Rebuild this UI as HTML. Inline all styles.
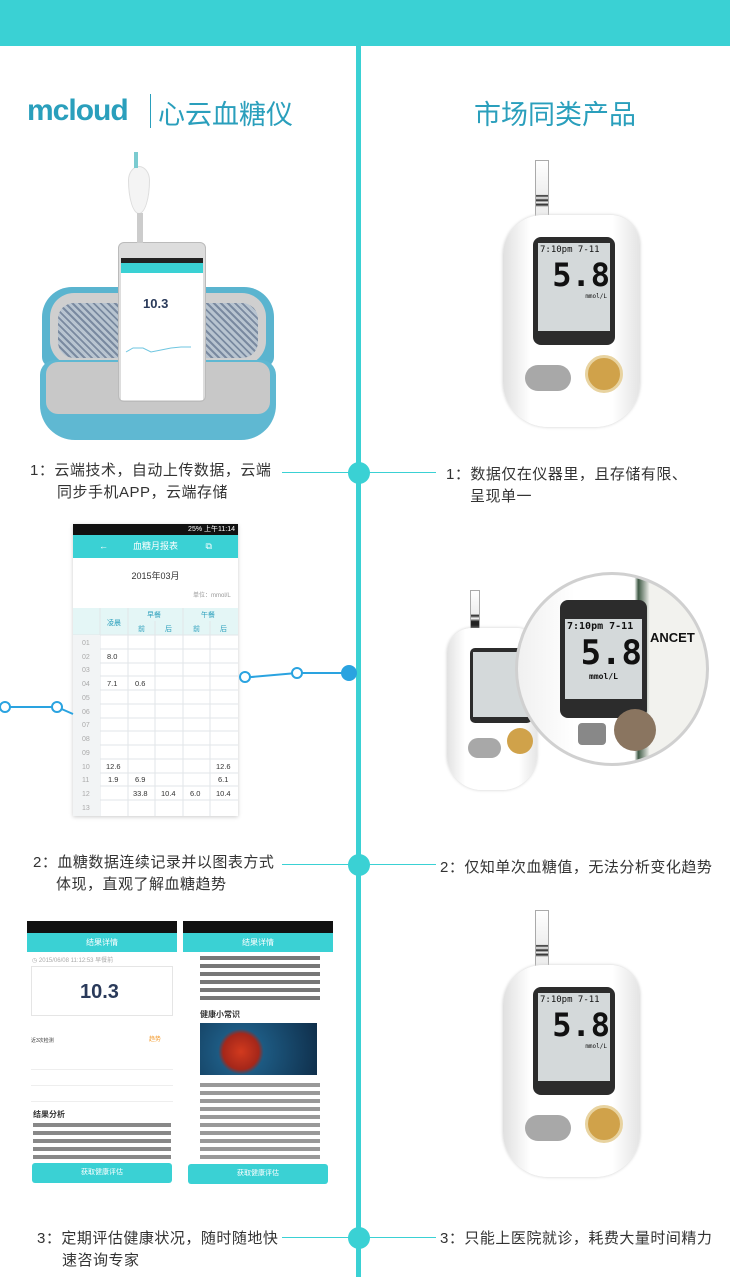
<!DOCTYPE html>
<html><head><meta charset="utf-8"><style>
*{margin:0;padding:0;box-sizing:border-box}
body{width:730px;height:1277px;position:relative;background:#fff;overflow:hidden;font-family:"Liberation Sans","Noto Sans CJK SC",sans-serif;color:#333}
.a{position:absolute}
.t{position:absolute;font-size:15px;line-height:23px;color:#333;letter-spacing:0.5px}
.meter{position:absolute;width:150px;height:280px}
.strip{position:absolute;left:37px;top:0;width:14px;height:58px;background:linear-gradient(#fff 0,#eee 60%,#222 62%,#fff 66%,#222 70%,#fff 74%,#222 78%,#eee 82%);border:1px solid #aaa}
.body{position:absolute;left:5px;top:55px;width:137px;height:212px;border-radius:40px 30px 45px 45px;background:linear-gradient(90deg,#e0e0e0,#fff 20%,#fff 80%,#e4e4e4);box-shadow:0 0 3px #ccc}
.scr{position:absolute;left:30px;top:22px;width:82px;height:108px;background:#2c2c2c;border-radius:8px}
.lcd{position:absolute;left:5px;top:6px;width:72px;height:88px;background:#d4d9da;font-family:"DejaVu Sans Mono",monospace;color:#111}
.arr{position:absolute;left:22px;top:150px;width:46px;height:26px;border-radius:13px;background:#a8a8a8}
.pw{position:absolute;left:82px;top:140px;width:38px;height:38px;border-radius:50%;background:#d0a24a;border:3px solid #e8d3a0}
</style></head><body>
<div class="a" style="left:0;top:0;width:730px;height:46px;background:#3ad1d4"></div>
<div class="a" style="left:356px;top:46px;width:5px;height:1231px;background:#3ad1d4"></div>

<div class="a" style="left:27px;top:94px;font-size:30px;font-weight:bold;color:#2a9fbc;letter-spacing:-1px">mcloud</div>
<div class="a" style="left:150px;top:94px;width:1px;height:34px;background:#2a9fbc"></div>
<div class="a" style="left:158px;top:93px;font-size:27px;color:#2a9fbc">心云血糖仪</div>
<div class="a" style="left:474px;top:93px;font-size:27px;color:#2a9fbc">市场同类产品</div>

<div class="a" style="left:282px;top:472px;width:154px;height:1px;background:#3ad1d4"></div>
<div class="a" style="left:348px;top:462px;width:22px;height:22px;border-radius:50%;background:#3ad1d4"></div>
<div class="a" style="left:282px;top:864px;width:154px;height:1px;background:#3ad1d4"></div>
<div class="a" style="left:348px;top:854px;width:22px;height:22px;border-radius:50%;background:#3ad1d4"></div>
<div class="a" style="left:282px;top:1237px;width:154px;height:1px;background:#3ad1d4"></div>
<div class="a" style="left:348px;top:1227px;width:22px;height:22px;border-radius:50%;background:#3ad1d4"></div>

<div class="t" style="left:30px;top:459px">1：云端技术，自动上传数据，云端</div>
<div class="t" style="left:57px;top:481px">同步手机APP，云端存储</div>
<div class="t" style="left:446px;top:463px">1：数据仅在仪器里，且存储有限、</div>
<div class="t" style="left:470px;top:485px">呈现单一</div>
<div class="t" style="left:33px;top:851px">2：血糖数据连续记录并以图表方式</div>
<div class="t" style="left:56px;top:873px">体现，直观了解血糖趋势</div>
<div class="t" style="left:440px;top:856px">2：仅知单次血糖值，无法分析变化趋势</div>
<div class="t" style="left:37px;top:1227px">3：定期评估健康状况，随时随地快</div>
<div class="t" style="left:62px;top:1249px">速咨询专家</div>
<div class="t" style="left:440px;top:1227px">3：只能上医院就诊，耗费大量时间精力</div>

<!-- case + phone -->
<div class="a" style="left:42px;top:287px;width:232px;height:80px;border-radius:30px 30px 10px 10px;background:#5ab4cf"></div>
<div class="a" style="left:50px;top:293px;width:216px;height:72px;border-radius:24px;background:#cfcfcf"></div>
<div class="a" style="left:58px;top:303px;width:200px;height:55px;border-radius:16px;background:repeating-linear-gradient(45deg,#b8c4d0 0 3px,#7a8aa0 3px 5px)"></div>
<div class="a" style="left:40px;top:360px;width:236px;height:80px;border-radius:15px 15px 35px 35px;background:#5fb8d2"></div>
<div class="a" style="left:46px;top:362px;width:224px;height:52px;border-radius:12px;background:#c8c8c8"></div>
<div class="a" style="left:118px;top:242px;width:88px;height:160px;border-radius:6px;background:#ddd;border:1px solid #bbb"></div>
<div class="a" style="left:121px;top:258px;width:82px;height:142px;background:#fff"></div>
<div class="a" style="left:121px;top:258px;width:82px;height:5px;background:#222"></div>
<div class="a" style="left:121px;top:263px;width:82px;height:10px;background:#3ad1d4"></div>
<div class="a" style="left:143px;top:296px;font-size:13px;font-weight:bold;color:#2a3a5a">10.3</div>
<svg class="a" style="left:121px;top:340px" width="82" height="20"><polyline points="5,12 12,8 22,8 30,12 40,10 50,8 60,7 70,7" fill="none" stroke="#6fc6e0" stroke-width="1"/></svg>
<div class="a" style="left:128px;top:166px;width:22px;height:48px;border-radius:50% 50% 50% 50%/30% 30% 70% 70%;background:#f4f4f4;border:1px solid #ddd"></div>
<div class="a" style="left:134px;top:152px;width:4px;height:16px;background:#7bcbd0"></div>
<div class="a" style="left:137px;top:213px;width:6px;height:30px;background:#ccc"></div>

<!-- table screenshot -->
<div class="a" style="left:73px;top:524px;width:165px;height:292px;background:#fff;box-shadow:0 1px 4px #ccc;overflow:hidden;font-size:8px;color:#333">
 <div class="a" style="left:0;top:0;width:165px;height:11px;background:#111;color:#fff;font-size:7px;text-align:right;padding-right:3px">25% 上午11:14</div>
 <div class="a" style="left:0;top:11px;width:165px;height:23px;background:#3ad1d4;color:#fff;text-align:center;line-height:23px;font-size:9px">← &nbsp;&nbsp;&nbsp;&nbsp;&nbsp;&nbsp;&nbsp;&nbsp;&nbsp;血糖月报表&nbsp;&nbsp;&nbsp;&nbsp;&nbsp;&nbsp;&nbsp;&nbsp;&nbsp;&nbsp; ⧉</div>
 <div class="a" style="left:0;top:45px;width:165px;text-align:center;font-size:9px">2015年03月</div>
 <div class="a" style="left:120px;top:66px;font-size:6px;color:#999">单位：mmol/L</div>
 <div class="a" style="left:0;top:84px;width:165px;height:27px;background:#e4f6f6"></div>
 <svg class="a" style="left:0;top:84px" width="165" height="208">
  <g stroke="#e2e6e8" stroke-width="1">
   <line x1="27" y1="0" x2="27" y2="208"/><line x1="55" y1="0" x2="55" y2="208"/><line x1="82" y1="13" x2="82" y2="208"/><line x1="110" y1="0" x2="110" y2="208"/><line x1="137" y1="13" x2="137" y2="208"/>
   <line x1="0" y1="27" x2="165" y2="27"/><line x1="0" y1="41" x2="165" y2="41"/><line x1="0" y1="55" x2="165" y2="55"/><line x1="0" y1="68" x2="165" y2="68"/><line x1="0" y1="82" x2="165" y2="82"/><line x1="0" y1="96" x2="165" y2="96"/><line x1="0" y1="110" x2="165" y2="110"/><line x1="0" y1="123" x2="165" y2="123"/><line x1="0" y1="137" x2="165" y2="137"/><line x1="0" y1="151" x2="165" y2="151"/><line x1="0" y1="165" x2="165" y2="165"/><line x1="0" y1="178" x2="165" y2="178"/><line x1="0" y1="192" x2="165" y2="192"/>
  </g>
  <rect x="0" y="27" width="27" height="181" fill="#f2f4f5"/>
  <g font-size="7" fill="#2a9fbc" font-family="Noto Sans CJK SC"><text x="34" y="17">凌晨</text><text x="74" y="9">早餐</text><text x="128" y="9">午餐</text><text x="65" y="23">前</text><text x="92" y="23">后</text><text x="120" y="23">前</text><text x="147" y="23">后</text></g>
  <g font-size="7" fill="#aaa" font-family="Liberation Sans"><text x="9" y="37">01</text><text x="9" y="51">02</text><text x="9" y="64">03</text><text x="9" y="78">04</text><text x="9" y="92">05</text><text x="9" y="106">06</text><text x="9" y="119">07</text><text x="9" y="133">08</text><text x="9" y="147">09</text><text x="9" y="161">10</text><text x="9" y="174">11</text><text x="9" y="188">12</text><text x="9" y="202">13</text></g>
  <g font-size="7.5" fill="#333" font-family="Liberation Sans"><text x="34" y="51">8.0</text><text x="34" y="78">7.1</text><text x="62" y="78">0.6</text><text x="33" y="161">12.6</text><text x="143" y="161">12.6</text><text x="35" y="174">1.9</text><text x="62" y="174">6.9</text><text x="145" y="174">6.1</text><text x="60" y="188">33.8</text><text x="88" y="188">10.4</text><text x="117" y="188">6.0</text><text x="143" y="188">10.4</text></g>
 </svg>
</div>
<svg class="a" style="left:0;top:660px" width="360" height="60">
 <g stroke="#2aa3e0" stroke-width="2" fill="#fff">
  <line x1="5" y1="47" x2="57" y2="47"/><line x1="57" y1="47" x2="73" y2="54"/>
  <line x1="240" y1="18" x2="297" y2="13"/><line x1="297" y1="13" x2="349" y2="13"/>
  <circle cx="5" cy="47" r="5"/><circle cx="57" cy="47" r="5"/><circle cx="245" cy="17" r="5"/><circle cx="297" cy="13" r="5"/>
  <circle cx="349" cy="13" r="7" fill="#2aa3e0"/>
 </g>
</svg>

<!-- bottom screenshots -->
<div class="a" style="left:27px;top:921px;width:150px;height:264px;background:#fff;overflow:hidden;font-size:6px">
 <div class="a" style="left:0;top:0;width:150px;height:12px;background:#111"></div>
 <div class="a" style="left:0;top:12px;width:150px;height:19px;background:#3ad1d4;color:#fff;text-align:center;line-height:19px;font-size:8px">结果详情</div>
 <div class="a" style="left:5px;top:34px;color:#aaa">◷ 2015/06/08 11:12:53 早餐前</div>
 <div class="a" style="left:4px;top:45px;width:142px;height:50px;border:1px solid #e5e5e5"></div>
 <div class="a" style="left:53px;top:60px;font-size:20px;font-weight:bold;color:#2a3a5a">10.3</div>
 <div class="a" style="left:4px;top:116px;font-size:5px">近3次检测</div>
 <div class="a" style="left:122px;top:113px;color:#f39a2c">趋势</div>
 <div class="a" style="left:4px;top:133px;width:142px;height:50px;background:repeating-linear-gradient(#fff 0 15px,#eee 15px 16px)"></div>
 <div class="a" style="left:6px;top:188px;font-size:8px;font-weight:bold">结果分析</div>
 <div class="a" style="left:6px;top:200px;width:138px;height:40px;background:repeating-linear-gradient(#fff 0 2px,#888 2px 6px,#fff 6px 8px)"></div>
 <div class="a" style="left:5px;top:242px;width:140px;height:20px;border-radius:3px;background:#3ad1d4;color:#fff;text-align:center;line-height:20px;font-size:7px">获取健康评估</div>
</div>
<div class="a" style="left:183px;top:921px;width:150px;height:264px;background:#fff;overflow:hidden;font-size:6px">
 <div class="a" style="left:0;top:0;width:150px;height:12px;background:#111"></div>
 <div class="a" style="left:0;top:12px;width:150px;height:19px;background:#3ad1d4;color:#fff;text-align:center;line-height:19px;font-size:8px">结果详情</div>
 <div class="a" style="left:17px;top:33px;width:120px;height:50px;background:repeating-linear-gradient(#fff 0 2px,#777 2px 6px,#fff 6px 8px)"></div>
 <div class="a" style="left:17px;top:88px;font-size:8px;font-weight:bold">健康小常识</div>
 <div class="a" style="left:17px;top:102px;width:117px;height:52px;background:radial-gradient(circle at 35% 55%,#d23a1e 0,#a5271a 22%,#1d5a82 28%,#0f2e4a 100%)"></div>
 <div class="a" style="left:17px;top:160px;width:120px;height:80px;background:repeating-linear-gradient(#fff 0 2px,#999 2px 6px,#fff 6px 8px)"></div>
 <div class="a" style="left:5px;top:243px;width:140px;height:20px;border-radius:3px;background:#3ad1d4;color:#fff;text-align:center;line-height:20px;font-size:7px">获取健康评估</div>
</div>

<div class="meter" style="left:498px;top:160px">
 <div class="strip"></div>
 <div class="body"><div class="scr"><div class="lcd"><div style="font-size:9px;padding:2px">7:10pm 7-11</div><div style="font-size:32px;font-weight:bold;text-align:right;line-height:36px">5.8</div><div style="font-size:6px;text-align:right;padding-right:3px">mmol/L</div></div></div>
 <div class="arr"></div><div class="pw"></div></div>
</div>
<div class="meter" style="left:498px;top:910px">
 <div class="strip"></div>
 <div class="body"><div class="scr"><div class="lcd"><div style="font-size:9px;padding:2px">7:10pm 7-11</div><div style="font-size:32px;font-weight:bold;text-align:right;line-height:36px">5.8</div><div style="font-size:6px;text-align:right;padding-right:3px">mmol/L</div></div></div>
 <div class="arr"></div><div class="pw"></div></div>
</div>
<div class="a" style="left:470px;top:590px;width:10px;height:40px;background:linear-gradient(#fff 0,#eee 60%,#222 65%,#fff 72%,#222 80%);border:1px solid #aaa"></div>
<div class="a" style="left:447px;top:628px;width:90px;height:162px;border-radius:25px 20px 35px 35px;background:linear-gradient(90deg,#e2e2e2,#fff 20%,#fff 80%,#e6e6e6);box-shadow:0 0 3px #ccc"></div>
<div class="a" style="left:470px;top:648px;width:62px;height:75px;background:#2c2c2c;border-radius:5px"></div>
<div class="a" style="left:473px;top:652px;width:56px;height:65px;background:#d4d9da"></div>
<div class="a" style="left:468px;top:738px;width:33px;height:20px;border-radius:10px;background:#a8a8a8"></div>
<div class="a" style="left:507px;top:728px;width:26px;height:26px;border-radius:50%;background:#d0a24a"></div>
<div class="a" style="left:515px;top:572px;width:194px;height:194px;border-radius:50%;background:linear-gradient(90deg,#f0f0f0 0,#fff 30%,#fff 62%,#3f5a45 64%,#f2f2ee 70%);border:3px solid #d0d0d0;overflow:hidden">
 <div class="a" style="left:42px;top:25px;width:87px;height:118px;background:#2c2c2c;border-radius:8px"></div>
 <div class="a" style="left:47px;top:44px;width:77px;height:80px;background:#d4d9da;font-family:'DejaVu Sans Mono',monospace;color:#111"><div style="font-size:10px;padding:2px;font-weight:bold">7:10pm 7-11</div><div style="font-size:34px;font-weight:bold;text-align:right;line-height:38px">5.8</div><div style="font-size:8px;text-align:center;font-weight:bold">mmol/L</div></div>
 <div class="a" style="left:96px;top:134px;width:42px;height:42px;border-radius:50%;background:#8a7560"></div>
 <div class="a" style="left:60px;top:148px;width:28px;height:22px;background:#888;border-radius:4px"></div>
 <div class="a" style="left:132px;top:55px;font-size:13px;font-weight:bold;color:#111">ANCET</div>
</div>
</body></html>
